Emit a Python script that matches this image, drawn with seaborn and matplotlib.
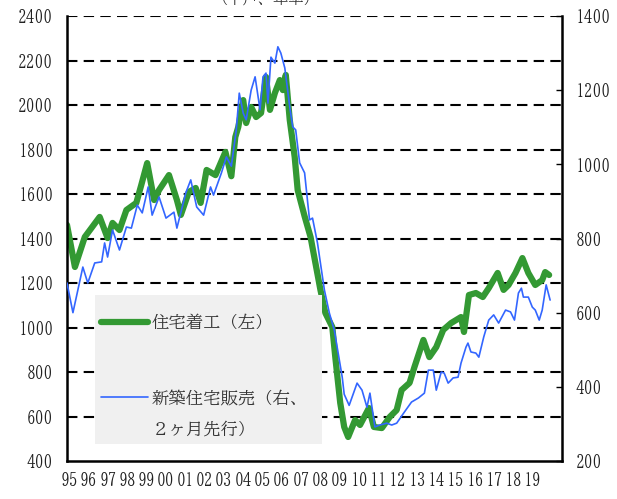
import numpy as np
import pandas as pd
import matplotlib
matplotlib.use("Agg")
import matplotlib.pyplot as plt
from matplotlib.lines import Line2D
from matplotlib.patches import Rectangle
import seaborn as sns

# housing starts (left axis, thousand units)
starts_year = [1995.0, 1995.4, 1995.9, 1996.65, 1997.05, 1997.3, 1997.65, 1998.0, 1998.5, 1998.75,
               1999.05, 1999.4, 1999.65, 2000.15, 2000.55, 2000.75, 2001.15, 2001.5, 2001.75, 2002.05,
               2002.5, 2003.0, 2003.3, 2003.5, 2003.65, 2003.9, 2004.05, 2004.3, 2004.55, 2004.8,
               2005.05, 2005.25, 2005.5, 2005.75, 2005.9, 2006.05, 2006.25, 2006.5, 2006.65, 2007.0,
               2007.3, 2007.8, 2008.05, 2008.4, 2008.55, 2008.8, 2009.0, 2009.2, 2009.55, 2009.8,
               2010.25, 2010.5, 2010.9, 2011.3, 2011.65, 2011.9, 2012.3, 2012.55, 2013.0, 2013.3,
               2013.65, 2014.0, 2014.4, 2014.9, 2015.05, 2015.3, 2015.65, 2016.0, 2016.3, 2016.75,
               2017.05, 2017.3, 2017.65, 2018.0, 2018.3, 2018.65, 2019.0, 2019.15, 2019.35]
starts = [1461, 1272, 1407, 1497, 1402, 1470, 1438, 1528, 1560, 1640,
          1739, 1573, 1618, 1685, 1573, 1506, 1609, 1627, 1560, 1708,
          1685, 1789, 1680, 1856, 1901, 2022, 1919, 1991, 1946, 1964,
          2126, 1978, 2054, 2112, 2067, 2135, 1933, 1766, 1618, 1500,
          1407, 1169, 1065, 1002, 867, 661, 553, 508, 584, 562,
          638, 553, 548, 598, 629, 719, 751, 823, 944, 867,
          912, 989, 1020, 1047, 980, 1146, 1155, 1137, 1177, 1245,
          1169, 1191, 1245, 1312, 1245, 1191, 1213, 1249, 1236]

# new home sales (right axis, 2 months ahead)
sales_year = [1995.0, 1995.3, 1995.8, 1996.05, 1996.4, 1996.75, 1996.9, 1997.05, 1997.3, 1997.65,
              1998.0, 1998.25, 1998.55, 1998.8, 1999.1, 1999.3, 1999.65, 2000.0, 2000.4, 2000.55,
              2001.0, 2001.25, 2001.55, 2001.9, 2002.25, 2002.4, 2002.8, 2003.05, 2003.3, 2003.55,
              2003.7, 2003.9, 2004.05, 2004.3, 2004.5, 2004.75, 2004.9, 2005.05, 2005.15, 2005.3,
              2005.5, 2005.65, 2005.8, 2006.0, 2006.25, 2006.4, 2006.55, 2006.75, 2007.0, 2007.15,
              2007.25, 2007.4, 2007.65, 2008.0, 2008.25, 2008.5, 2008.9, 2009.0, 2009.25, 2009.65,
              2009.9, 2010.15, 2010.3, 2010.55, 2010.8, 2011.15, 2011.4, 2011.65, 2012.0, 2012.4,
              2012.75, 2013.05, 2013.25, 2013.5, 2013.65, 2013.9, 2014.05, 2014.25, 2014.5, 2014.75,
              2014.9, 2015.15, 2015.25, 2015.4, 2015.65, 2015.8, 2016.05, 2016.3, 2016.55, 2016.8,
              2017.15, 2017.4, 2017.6, 2017.8, 2017.95, 2018.05, 2018.3, 2018.5, 2018.65, 2018.85,
              2019.0, 2019.2, 2019.4]
sales = [680, 600, 723, 680, 734, 737, 788, 750, 823, 769,
         831, 828, 890, 869, 939, 863, 912, 855, 871, 828,
         923, 958, 885, 863, 939, 917, 977, 1020, 995, 1093,
         1192, 1138, 1120, 1200, 1236, 1147, 1236, 1246, 1165, 1289,
         1273, 1317, 1300, 1260, 1155, 1101, 1093, 1004, 977, 900,
         850, 855, 788, 661, 599, 553, 426, 380, 350, 410,
         391, 345, 383, 292, 297, 302, 297, 302, 329, 359,
         370, 383, 445, 445, 391, 440, 437, 410, 424, 426,
         464, 507, 518, 494, 491, 480, 535, 580, 594, 572,
         607, 602, 580, 653, 666, 642, 642, 615, 607, 580,
         607, 675, 634]

year_labels = ["95", "96", "97", "98", "99", "00", "01", "02", "03", "04", "05", "06", "07",
               "08", "09", "10", "11", "12", "13", "14", "15", "16", "17", "18", "19"]
label_starts = "住宅着工（左）"
label_sales = ["新築住宅販売（右、", "２ヶ月先行）"]

green = "#339933"
blue = "#3366ff"
mincho = ["BIZ UDMincho", "Noto Serif CJK JP", "DejaVu Serif"]
tick_size = 12.5

sns.set_style("white")
plt.rcParams["font.family"] = mincho

fig = plt.figure(figsize=(6.17, 4.99), dpi=100)
ax = fig.add_axes([67 / 617, 38 / 499, 495 / 617, 445 / 499])
ax2 = ax.twinx()

df1 = pd.DataFrame({"year": starts_year, "v": starts})
df2 = pd.DataFrame({"year": sales_year, "v": sales})
sns.lineplot(data=df1, x="year", y="v", ax=ax, color=green, linewidth=4.5, legend=False)
sns.lineplot(data=df2, x="year", y="v", ax=ax2, color=blue, linewidth=1.2, legend=False)

ax.set_xlim(1995, 2020)
ax.set_ylim(400, 2400)
ax2.set_ylim(200, 1400)
ax.set_xlabel("")
ax.set_ylabel("")
ax2.set_ylabel("")

ax.set_yticks(np.arange(400, 2401, 200))
ax2.set_yticks(np.arange(200, 1401, 200))
# labels sit near the start of each year, tick marks between years
label_pos = [1995 + (2.5 + i * 19.3) / 19.8 for i in range(len(year_labels))]
ax.set_xticks(label_pos)
ax.set_xticklabels(year_labels)
ax.set_xticks(np.arange(1996, 2020), minor=True)

for g in np.arange(600, 2401, 200):
    ax.axhline(g, color="black", linestyle=(0, (5, 3)), linewidth=1.5, zorder=0)

ax.tick_params(axis="y", length=0, pad=10, labelsize=tick_size, labelcolor="#222222")
ax.tick_params(axis="x", which="major", length=0, pad=8, labelsize=tick_size,
               labelcolor="#222222")
ax.tick_params(axis="x", which="minor", direction="in", length=4, width=1, color="black")
ax2.tick_params(axis="y", direction="in", length=4, width=1, pad=10, labelsize=tick_size,
                colors="black", labelcolor="#222222")

for a in (ax, ax2):
    for s in a.spines.values():
        s.set_visible(False)
ax.spines["left"].set_visible(True)
ax.spines["bottom"].set_visible(True)
ax2.spines["right"].set_visible(True)
for s in (ax.spines["left"], ax.spines["bottom"], ax2.spines["right"]):
    s.set_linewidth(1.8)
    s.set_color("black")


def axpt(px, py):
    return ((px - 67) / 495, (461 - py) / 445)


# legend box
bx, by = axpt(95, 444)
bw, bh = 227 / 495, 149 / 445
ax2.add_patch(Rectangle((bx, by), bw, bh, transform=ax2.transAxes, facecolor="#f0f0f0",
                        edgecolor="none", zorder=5))
x0, y0 = axpt(101, 322)
x1, _ = axpt(148, 322)
ax2.add_line(Line2D([x0, x1], [y0, y0], transform=ax2.transAxes, color=green,
                    linewidth=4.5, solid_capstyle="round", zorder=6))
tx, _ = axpt(152, 322)
ax2.text(tx, y0, label_starts, transform=ax2.transAxes, va="center", ha="left",
         fontsize=12.5, family=mincho, color="#333333", zorder=6)
_, yb = axpt(101, 397)
ax2.add_line(Line2D([x0, x1], [yb, yb], transform=ax2.transAxes, color=blue,
                    linewidth=1.2, zorder=6))
ax2.text(tx, yb, label_sales[0], transform=ax2.transAxes, va="center", ha="left",
         fontsize=12.5, family=mincho, color="#333333", zorder=6)
_, yc = axpt(101, 428)
ax2.text(tx, yc, label_sales[1], transform=ax2.transAxes, va="center", ha="left",
         fontsize=12.5, family=mincho, color="#333333", zorder=6)

fig.text(266 / 617, 1.004, "（千戸、年率）", ha="center", va="center", fontsize=11,
         family=mincho, color="#333333")

fig.savefig("out.png", dpi=100)
